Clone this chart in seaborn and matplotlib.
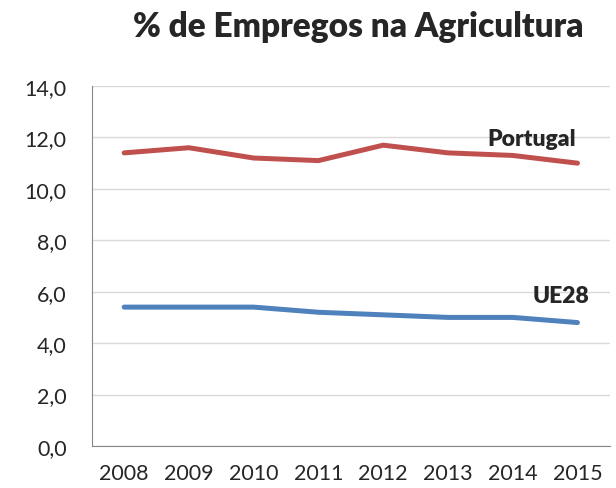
import numpy as np
import pandas as pd
import matplotlib.pyplot as plt
import seaborn as sns

# Data
years = [2008, 2009, 2010, 2011, 2012, 2013, 2014, 2015]
portugal = [11.4, 11.6, 11.2, 11.1, 11.7, 11.4, 11.3, 11.0]
ue28 = [5.4, 5.4, 5.4, 5.2, 5.1, 5.0, 5.0, 4.8]

df = pd.DataFrame({
    'Ano': years * 2,
    'Valor': portugal + ue28,
    'Serie': ['Portugal'] * len(years) + ['UE28'] * len(years),
})

sns.set_style('white')
plt.rcParams['font.family'] = ['Lato', 'DejaVu Sans']

fig = plt.figure(figsize=(6.16, 4.89), dpi=100)
ax = fig.add_axes([0.149, 0.086, 0.841, 0.736])

sns.lineplot(data=df, x='Ano', y='Valor', hue='Serie',
             palette={'Portugal': '#C0504D', 'UE28': '#4F81BD'},
             linewidth=3.6, legend=False, ax=ax, solid_capstyle='round')

ax.set_ylim(0, 14)
ax.set_yticks(np.arange(0, 15, 2))
ax.set_yticklabels([f"{v:.1f}".replace('.', ',') for v in np.arange(0, 15, 2)], fontsize=15.5)
ax.set_xlim(years[0] - 0.5, years[-1] + 0.5)
ax.set_xticks(years)
ax.set_xticklabels([str(y) for y in years], fontsize=15.5)
ax.tick_params(axis='y', length=0, pad=18)
ax.tick_params(axis='x', length=0, pad=12)
ax.set_xlabel('')
ax.set_ylabel('')

ax.grid(axis='y', color='#D9D9D9', linewidth=1)
ax.set_axisbelow(True)
for side in ['top', 'right']:
    ax.spines[side].set_visible(False)
ax.spines['left'].set_color('#868686')
ax.spines['bottom'].set_color('#868686')

ax.text(2014.3, 11.95, 'Portugal', fontsize=16.5, fontweight='heavy', ha='center', va='center')
ax.text(2014.75, 5.84, 'UE28', fontsize=16.5, fontweight='heavy', ha='center', va='center')

fig.text(0.581, 0.945, '% de Empregos na Agricultura', fontsize=24, fontweight='heavy',
         ha='center', va='center')

plt.savefig('out.png', dpi=100)
